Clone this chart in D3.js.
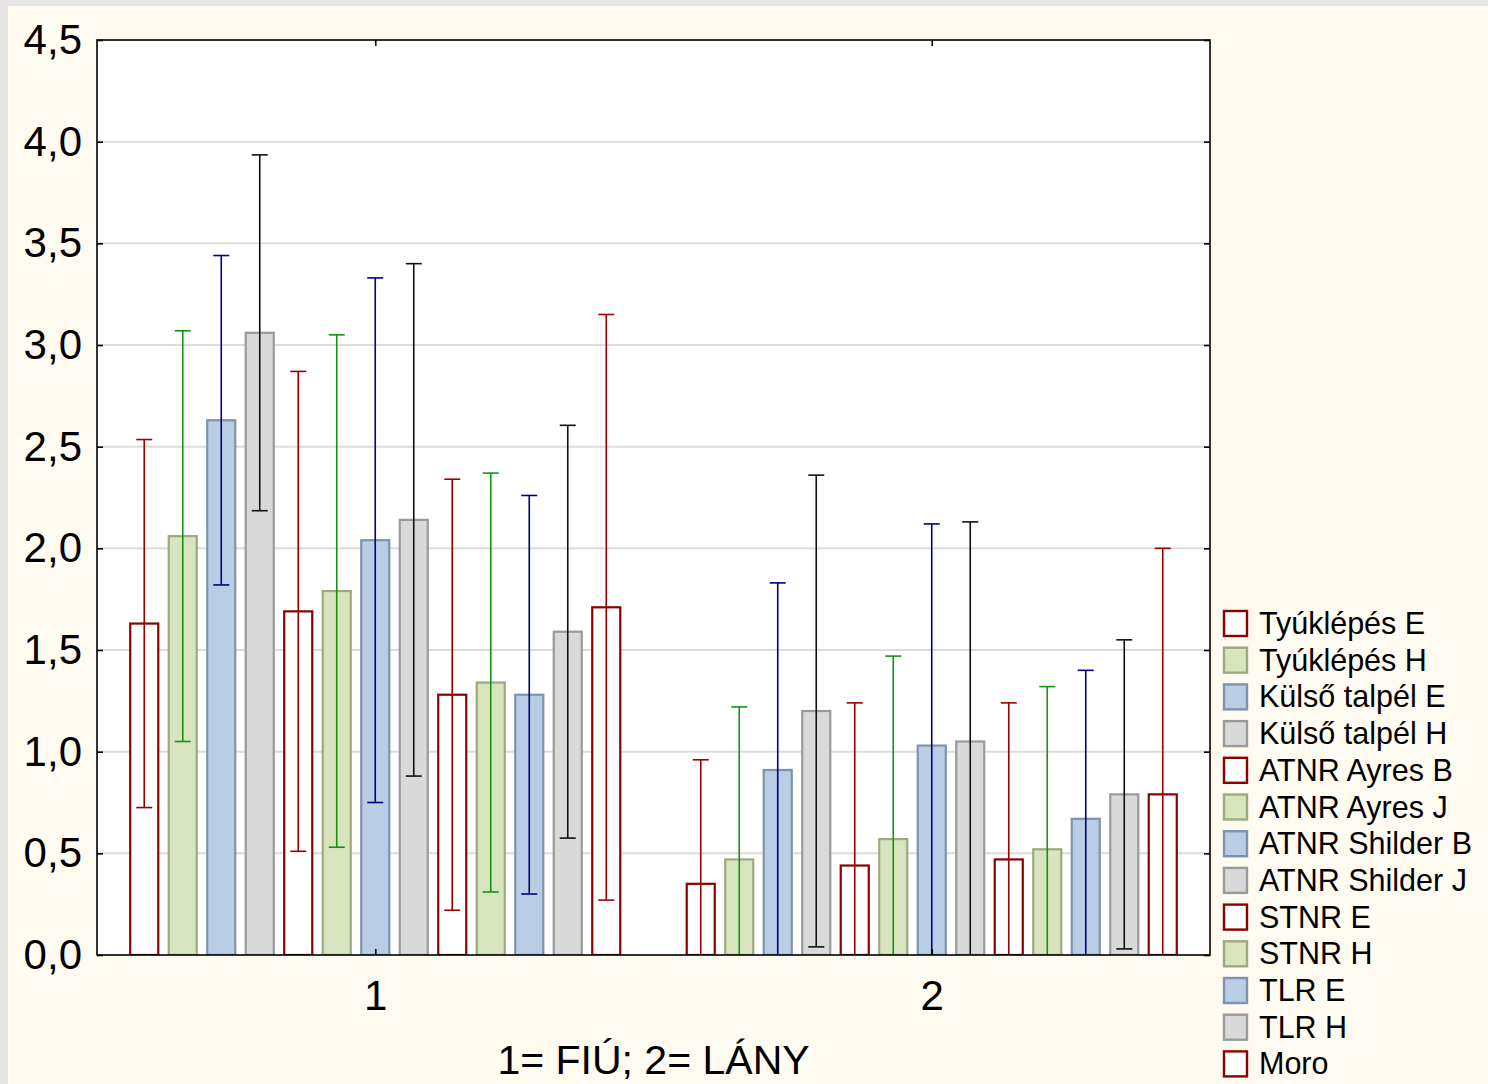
<!DOCTYPE html>
<html>
<head>
<meta charset="utf-8">
<script src="https://cdn.jsdelivr.net/npm/d3@7"></script>
<style>
  html, body { margin: 0; padding: 0; background: #e6e6e6; }
  svg { display: block; }
  text { font-family: "Liberation Sans", Arial, sans-serif; fill: #000; }
</style>
</head>
<body>
<svg id="chart" width="1488" height="1084"></svg>
<script>
// ---- data ----
const groups = ["1", "2"];
const seriesNames = ["Tyúklépés E", "Tyúklépés H", "Külső talpél E", "Külső talpél H",
  "ATNR Ayres B", "ATNR Ayres J", "ATNR Shilder B", "ATNR Shilder J",
  "STNR E", "STNR H", "TLR E", "TLR H", "Moro"];
const seriesKind = ["red", "green", "blue", "gray", "red", "green", "blue", "gray",
  "red", "green", "blue", "gray", "red"];
const means1 = [1.63, 2.06, 2.63, 3.06, 1.69, 1.79, 2.04, 2.14, 1.28, 1.34, 1.28, 1.59, 1.71];
const means2 = [0.35, 0.47, 0.91, 1.20, 0.44, 0.57, 1.03, 1.05, 0.47, 0.52, 0.67, 0.79, 0.79];
const err1 = [0.905, 1.01, 0.81, 0.875, 1.18, 1.26, 1.29, 1.26, 1.06, 1.03, 0.98, 1.015, 1.44];
const err2 = [0.61, 0.75, 0.92, 1.16, 0.80, 0.90, 1.09, 1.08, 0.77, 0.80, 0.73, 0.76, 1.21];
const yTicks = [0, 0.5, 1, 1.5, 2, 2.5, 3, 3.5, 4, 4.5];
const xTitle = "1= FIÚ; 2= LÁNY";

const styles = {
  red:   { fill: "#ffffff", stroke: "#8b0000", err: "#9a0000" },
  green: { fill: "#d7e4bd", stroke: "#9caa80", err: "#129412" },
  blue:  { fill: "#b9cde5", stroke: "#7e94ae", err: "#000080" },
  gray:  { fill: "#d9d9d9", stroke: "#9a9a9a", err: "#111111" }
};

const rows = [];
[means1, means2].forEach((m, gi) => {
  const e = gi === 0 ? err1 : err2;
  m.forEach((v, si) => rows.push({ group: groups[gi], series: seriesNames[si], kind: seriesKind[si], mean: v, err: e[si] }));
});

// ---- layout ----
const svg = d3.select("#chart");
svg.append("rect").attr("x", 8).attr("y", 6).attr("width", 1480).attr("height", 1078).attr("fill", "#fffbf0");

const L = 97, R = 1210, T = 40, B = 955;
const x0 = d3.scaleBand().domain(groups).range([L, R]).padding(0);
const x1 = d3.scaleBand().domain(seriesNames).range([0, x0.bandwidth()]).paddingInner(0.22).paddingOuter(0.837);
const y = d3.scaleLinear().domain([0, 4.5]).range([B, T]);

svg.append("rect").attr("x", L).attr("y", T).attr("width", R - L).attr("height", B - T).attr("fill", "#ffffff");

// grid
svg.append("g").selectAll("line").data(yTicks.filter(t => t > 0 && t < 4.5)).join("line")
  .attr("x1", L).attr("x2", R).attr("y1", d => y(d)).attr("y2", d => y(d))
  .attr("stroke", "#dcdcdc").attr("stroke-width", 2);

svg.append("clipPath").attr("id", "plotclip").append("rect")
  .attr("x", L).attr("y", T).attr("width", R - L).attr("height", B - T);

const plot = svg.append("g").attr("clip-path", "url(#plotclip)");

// bars
plot.selectAll("rect.bar").data(rows).join("rect").attr("class", "bar")
  .attr("x", d => x0(d.group) + x1(d.series) + 1)
  .attr("width", x1.bandwidth() - 2)
  .attr("y", d => y(d.mean))
  .attr("height", d => y(0) - y(d.mean))
  .attr("fill", d => styles[d.kind].fill)
  .attr("stroke", d => styles[d.kind].stroke)
  .attr("stroke-width", 2.2);

// error bars
const cap = 8;
const eb = plot.selectAll("g.err").data(rows).join("g").attr("class", "err")
  .attr("stroke", d => styles[d.kind].err).attr("stroke-width", 1.6);
eb.append("line")
  .attr("x1", d => x0(d.group) + x1(d.series) + x1.bandwidth() / 2)
  .attr("x2", d => x0(d.group) + x1(d.series) + x1.bandwidth() / 2)
  .attr("y1", d => y(d.mean + d.err)).attr("y2", d => y(d.mean - d.err));
eb.append("line")
  .attr("x1", d => x0(d.group) + x1(d.series) + x1.bandwidth() / 2 - cap)
  .attr("x2", d => x0(d.group) + x1(d.series) + x1.bandwidth() / 2 + cap)
  .attr("y1", d => y(d.mean + d.err)).attr("y2", d => y(d.mean + d.err));
eb.filter(d => d.mean - d.err > 0).append("line")
  .attr("x1", d => x0(d.group) + x1(d.series) + x1.bandwidth() / 2 - cap)
  .attr("x2", d => x0(d.group) + x1(d.series) + x1.bandwidth() / 2 + cap)
  .attr("y1", d => y(d.mean - d.err)).attr("y2", d => y(d.mean - d.err));

// frame
svg.append("rect").attr("x", L).attr("y", T).attr("width", R - L).attr("height", B - T)
  .attr("fill", "none").attr("stroke", "#000").attr("stroke-width", 1.6);

// axes
const yAxisL = d3.axisLeft(y).tickValues(yTicks).tickSize(-6).tickPadding(15)
  .tickFormat(d => d3.format(".1f")(d).replace(".", ","));
const gyl = svg.append("g").attr("transform", `translate(${L},0)`).call(yAxisL);
gyl.select(".domain").remove();
gyl.selectAll(".tick line").attr("stroke", "#000").attr("stroke-width", 1.6);
gyl.selectAll(".tick text").attr("font-size", 42).attr("font-family", "Liberation Sans, Arial, sans-serif").attr("fill", "#000");

const gyr = svg.append("g").attr("transform", `translate(${R},0)`).call(d3.axisRight(y).tickValues(yTicks).tickSize(-6).tickFormat(""));
gyr.select(".domain").remove();
gyr.selectAll(".tick line").attr("stroke", "#000").attr("stroke-width", 1.6);

const xCenters = d3.scalePoint().domain(groups).range([x0(groups[0]) + x0.bandwidth() / 2, x0(groups[1]) + x0.bandwidth() / 2]);
const gxb = svg.append("g").attr("transform", `translate(0,${B})`).call(d3.axisBottom(xCenters).tickSize(-6).tickPadding(25));
gxb.select(".domain").remove();
gxb.selectAll(".tick line").attr("stroke", "#000").attr("stroke-width", 1.6);
gxb.selectAll(".tick text").attr("font-size", 42).attr("font-family", "Liberation Sans, Arial, sans-serif").attr("fill", "#000");

const gxt = svg.append("g").attr("transform", `translate(0,${T})`).call(d3.axisTop(xCenters).tickSize(-6).tickFormat(""));
gxt.select(".domain").remove();
gxt.selectAll(".tick line").attr("stroke", "#000").attr("stroke-width", 1.6);

svg.append("text").attr("x", (L + R) / 2).attr("y", 1074).attr("text-anchor", "middle")
  .attr("font-size", 41).text(xTitle);

// legend
const lg = svg.append("g").attr("transform", "translate(1223,610)");
const rowH = 36.7;
const items = lg.selectAll("g").data(seriesNames).join("g")
  .attr("transform", (d, i) => `translate(0,${i * rowH})`);
items.append("rect").attr("x", 1).attr("y", 1).attr("width", 23).attr("height", 25)
  .attr("fill", (d, i) => styles[seriesKind[i]].fill)
  .attr("stroke", (d, i) => styles[seriesKind[i]].stroke).attr("stroke-width", 2.4);
items.append("text").attr("x", 36).attr("y", 24).attr("font-size", 30.5).text(d => d);
</script>
</body>
</html>
